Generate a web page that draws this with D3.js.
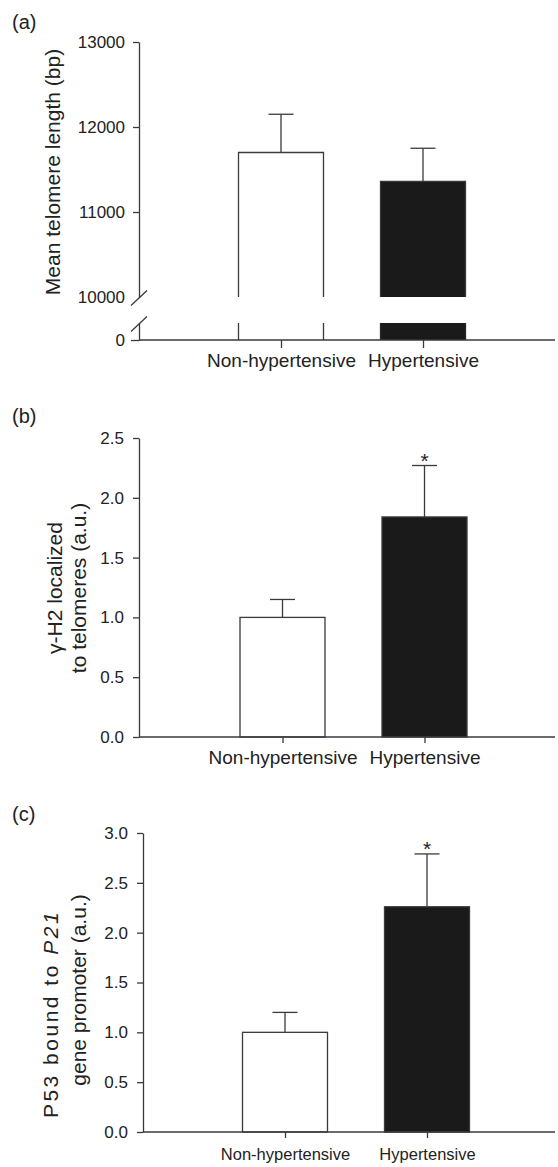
<!DOCTYPE html>
<html>
<head>
<meta charset="utf-8">
<script src="https://cdn.jsdelivr.net/npm/d3@7"></script>
<style>
  body { margin: 0; background: #fff; }
  text { font-family: "Liberation Sans", Arial, sans-serif; fill: #222; }
  .axis path, .axis line { stroke: #3a3a3a; stroke-width: 1.3; }
</style>
</head>
<body>
<script>
// data
var groups = ["Non-hypertensive", "Hypertensive"];
var telomereMean = [11700, 11360];
var telomereErr = [450, 390];
var gammaMean = [1.0, 1.84];
var gammaErr = [0.15, 0.43];
var p53Mean = [1.0, 2.26];
var p53Err = [0.2, 0.53];
var telomereTicks = [10000, 11000, 12000, 13000];
var gammaTicks = [0, 0.5, 1.0, 1.5, 2.0, 2.5];
var p53Ticks = [0, 0.5, 1.0, 1.5, 2.0, 2.5, 3.0];
var signif = ["", "*"];
var fills = ["#ffffff", "#1a1a1a"];

var svg = d3.select("body").append("svg")
    .attr("width", 558)
    .attr("height", 1167);

var line = "#3a3a3a";
var barW = 85;

function panelLetter(t, y) {
  svg.append("text").attr("x", 12).attr("y", y)
     .style("font-size", "20px").text(t);
}

function yLabel(lines, xs, cy, size, spacing) {
  lines.forEach(function(l, i) {
    var t = svg.append("text")
      .attr("transform", "translate(" + xs[i] + "," + cy[i] + ") rotate(-90)")
      .attr("text-anchor", "middle")
      .attr("dy", "0.35em")
      .style("font-size", size + "px")
      .style("letter-spacing", (spacing ? spacing[i] : 0) + "px");
    l.forEach(function(part) {
      t.append("tspan").style("font-style", part[1] ? "italic" : "normal").text(part[0]);
    });
  });
}

function xAxis(x, axisX, base, tickLen, pad, size) {
  svg.append("line")
     .attr("x1", axisX).attr("x2", 555)
     .attr("y1", base).attr("y2", base)
     .attr("stroke", line).attr("stroke-width", 1.3);
  var g = svg.append("g").attr("class", "axis")
     .attr("transform", "translate(0," + base + ")")
     .call(d3.axisBottom(x).tickSize(tickLen).tickPadding(pad));
  g.select(".domain").remove();
  g.selectAll("text").style("font-size", size + "px").attr("fill", "#222");
}

function errBars(x, y, means, errs) {
  svg.selectAll(null).data(groups).enter().append("line")
     .attr("x1", function(d) { return x(d); })
     .attr("x2", function(d) { return x(d); })
     .attr("y1", function(d, i) { return y(means[i]); })
     .attr("y2", function(d, i) { return y(means[i] + errs[i]); })
     .attr("stroke", line).attr("stroke-width", 1.3);
  svg.selectAll(null).data(groups).enter().append("line")
     .attr("x1", function(d) { return x(d) - 12.5; })
     .attr("x2", function(d) { return x(d) + 12.5; })
     .attr("y1", function(d, i) { return y(means[i] + errs[i]); })
     .attr("y2", function(d, i) { return y(means[i] + errs[i]); })
     .attr("stroke", line).attr("stroke-width", 1.3);
}

function stars(x, y, means, errs) {
  svg.selectAll(null).data(groups).enter().append("text")
     .attr("x", function(d) { return x(d); })
     .attr("y", function(d, i) { return y(means[i] + errs[i]) + 2; })
     .attr("text-anchor", "middle")
     .style("font-size", "21px")
     .text(function(d, i) { return signif[i]; });
}

// ---------- (a) telomere length, broken axis ----------
(function() {
  var axisX = 139;
  var x = d3.scalePoint().domain(groups).range([281, 423]);
  var yUp = d3.scaleLinear().domain([10000, 13000]).range([297, 42]);
  var yLow = d3.scaleLinear().domain([0, 10000]).range([340, 323]);

  panelLetter("(a)", 29);

  // bars, upper part
  svg.selectAll(null).data(groups).enter().append("path")
     .attr("d", function(d, i) {
       var l = x(d) - barW / 2, r = x(d) + barW / 2;
       return "M" + l + "," + yUp(10000) + "V" + yUp(telomereMean[i]) + "H" + r + "V" + yUp(10000);
     })
     .attr("fill", function(d, i) { return fills[i]; })
     .attr("stroke", line).attr("stroke-width", 1.3);
  // bars, lower stub
  svg.selectAll(null).data(groups).enter().append("path")
     .attr("d", function(d) {
       var l = x(d) - barW / 2, r = x(d) + barW / 2;
       return "M" + l + "," + yLow(0) + "V" + yLow(10000) + "M" + r + "," + yLow(10000) + "V" + yLow(0);
     })
     .attr("fill", "none")
     .attr("stroke", line).attr("stroke-width", 1.3);
  svg.selectAll(null).data(groups.filter(function(d, i) { return fills[i] != "#ffffff"; }))
     .enter().append("rect")
     .attr("x", function(d) { return x(d) - barW / 2; })
     .attr("width", barW)
     .attr("y", yLow(10000))
     .attr("height", yLow(0) - yLow(10000))
     .attr("fill", fills[1]);

  errBars(x, yUp, telomereMean, telomereErr);

  var gUp = svg.append("g").attr("class", "axis")
     .attr("transform", "translate(" + axisX + ",0)")
     .call(d3.axisLeft(yUp).tickValues(telomereTicks).tickSize(6).tickPadding(8)
       .tickSizeOuter(0).tickFormat(d3.format("d")));
  gUp.selectAll(".tick").filter(function(d) { return d == 10000; }).select("line").remove();
  gUp.selectAll("text").style("font-size", "17px").attr("fill", "#222");

  var gLow = svg.append("g").attr("class", "axis")
     .attr("transform", "translate(" + axisX + ",0)")
     .call(d3.axisLeft(yLow).tickValues([0]).tickSize(8).tickPadding(6).tickSizeOuter(0));
  gLow.selectAll("text").style("font-size", "17px").attr("fill", "#222");

  // break marks
  [297.5, 323.5].forEach(function(cy) {
    svg.append("line")
       .attr("x1", axisX - 8).attr("y1", cy + 8)
       .attr("x2", axisX + 8).attr("y2", cy - 7)
       .attr("stroke", line).attr("stroke-width", 1.3);
  });

  xAxis(x, axisX, 340, 8, 6, 19);
  yLabel([[["Mean telomere length (bp)", false]]], [53], [172], 21);
})();

// ---------- (b) gamma-H2 ----------
(function() {
  var axisX = 139;
  var x = d3.scalePoint().domain(groups).range([282.5, 424.5]);
  var y = d3.scaleLinear().domain([0, 2.5]).range([737, 438]);

  panelLetter("(b)", 423);

  svg.selectAll(null).data(groups).enter().append("rect")
     .attr("x", function(d) { return x(d) - barW / 2; })
     .attr("width", barW)
     .attr("y", function(d, i) { return y(gammaMean[i]); })
     .attr("height", function(d, i) { return y(0) - y(gammaMean[i]); })
     .attr("fill", function(d, i) { return fills[i]; })
     .attr("stroke", line).attr("stroke-width", 1.3);

  errBars(x, y, gammaMean, gammaErr);
  stars(x, y, gammaMean, gammaErr);

  var g = svg.append("g").attr("class", "axis")
     .attr("transform", "translate(" + axisX + ",0)")
     .call(d3.axisLeft(y).tickValues(gammaTicks).tickSize(6).tickPadding(9)
       .tickSizeOuter(0).tickFormat(d3.format(".1f")));
  g.selectAll("text").style("font-size", "17px").attr("fill", "#222");

  xAxis(x, axisX, 737, 6, 8, 19);
  yLabel([[["\u03b3-H2 localized", false]], [["to telomeres (a.u.)", false]]], [55, 79], [588, 588], 21);
})();

// ---------- (c) P53 bound to P21 ----------
(function() {
  var axisX = 143;
  var x = d3.scalePoint().domain(groups).range([285, 427]);
  var y = d3.scaleLinear().domain([0, 3]).range([1132, 833]);

  panelLetter("(c)", 821);

  svg.selectAll(null).data(groups).enter().append("rect")
     .attr("x", function(d) { return x(d) - barW / 2; })
     .attr("width", barW)
     .attr("y", function(d, i) { return y(p53Mean[i]); })
     .attr("height", function(d, i) { return y(0) - y(p53Mean[i]); })
     .attr("fill", function(d, i) { return fills[i]; })
     .attr("stroke", line).attr("stroke-width", 1.3);

  errBars(x, y, p53Mean, p53Err);
  stars(x, y, p53Mean, p53Err);

  var g = svg.append("g").attr("class", "axis")
     .attr("transform", "translate(" + axisX + ",0)")
     .call(d3.axisLeft(y).tickValues(p53Ticks).tickSize(6).tickPadding(9)
       .tickSizeOuter(0).tickFormat(d3.format(".1f")));
  g.selectAll("text").style("font-size", "17px").attr("fill", "#222");

  xAxis(x, axisX, 1132, 6, 10, 16.5);
  yLabel([[["P53 bound to ", false], ["P21", true]], [["gene promoter (a.u.)", false]]],
         [51, 79], [1014, 990], 21, [2.5, 0]);
})();
</script>
</body>
</html>
